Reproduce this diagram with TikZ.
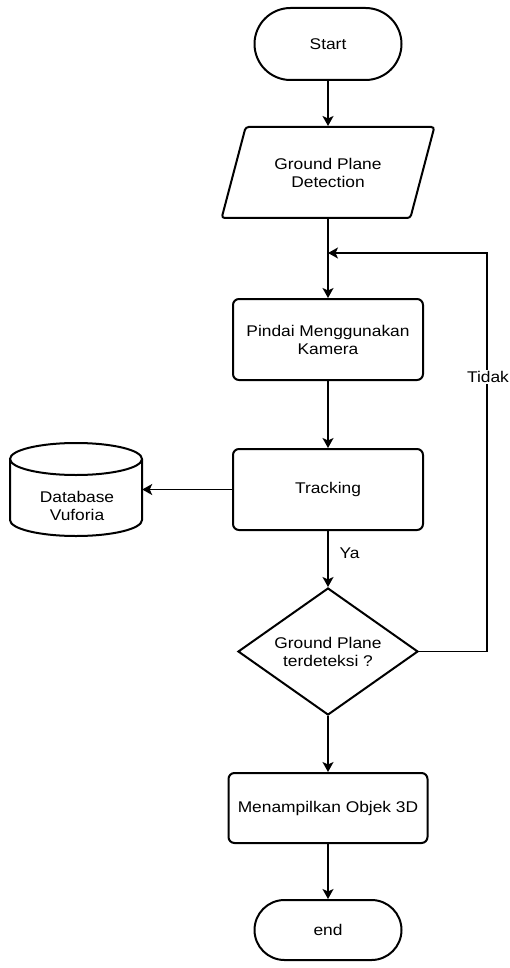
\documentclass[tikz,border=0pt]{standalone}
\usepackage{fontspec}
\setmainfont{Liberation Sans}[FakeStretch=1.12]
\usetikzlibrary{shapes.geometric,shapes.misc,arrows.meta}
\begin{document}
\begin{tikzpicture}[x=1pt,y=-1pt,
  font=\fontsize{15.5}{18}\selectfont,
  shp/.style={draw, line width=2pt, align=center},
  proc/.style={shp, rectangle, rounded corners=6pt, minimum width=190pt, minimum height=81pt, inner sep=0pt},
  term/.style={shp, rounded rectangle, minimum width=147pt, inner sep=0pt},
  arr/.style={line width=1.6pt, -{Stealth[length=10pt,width=11pt,inset=2.5pt]}},
  loopline/.style={arr, line width=1.1pt},
  lbl/.style={inner sep=1pt},
]
\useasboundingbox (0,0) rectangle (510,968);

\node[term, minimum height=72pt] (start) at (328,44) {Start};
\node[shp, trapezium, trapezium left angle=62, trapezium right angle=118, trapezium stretches=true,
      minimum width=213pt, minimum height=91pt, rounded corners=3pt, inner sep=0pt] (gpd) at (328,172.5) {Ground Plane\\Detection};
\node[proc] (pindai) at (328,339.5) {Pindai Menggunakan\\Kamera};
\node[proc] (track) at (328,489.5) {Tracking};
\node[shp, diamond, aspect=1.42, minimum width=180pt, minimum height=127pt, inner sep=0pt] (dec) at (328,651.5) {Ground Plane\\terdeteksi ?};
\node[proc, minimum width=199pt, minimum height=70pt] (show) at (328,808) {Menampilkan Objek 3D};
\node[term, minimum height=60pt] (end) at (328,930) {end};

% database cylinder
\node[minimum width=132pt, minimum height=93pt, inner sep=0pt] (db) at (76,489.5) {};
\draw[line width=2pt] (76,459) ellipse[x radius=66pt, y radius=16pt];
\draw[line width=2pt] (10,459) -- (10,520) arc[start angle=180, end angle=360, x radius=66pt, y radius=16pt] -- (142,459);
\node[align=center, inner sep=0pt] (dbt) at (77,506) {Database\\Vuforia};

\coordinate (tr) at (487,253);
\coordinate (mg) at (328,253);

\draw[arr] (start) -- (gpd);
\draw[arr] (gpd) -- (pindai);
\draw[arr] (pindai) -- (track);
\draw[arr] (track.west) -- (db.east);
\draw[arr] (track) -- (dec);
\draw[arr] (dec) -- (show);
\draw[arr] (show) -- (end);
\draw[loopline] (dec.east) -| (tr) -- (mg);

\node[lbl] (ya) at (349.5,553) {Ya};
\node[lbl, fill=white] (tidak) at (488,377) {Tidak};
\end{tikzpicture}
\end{document}
